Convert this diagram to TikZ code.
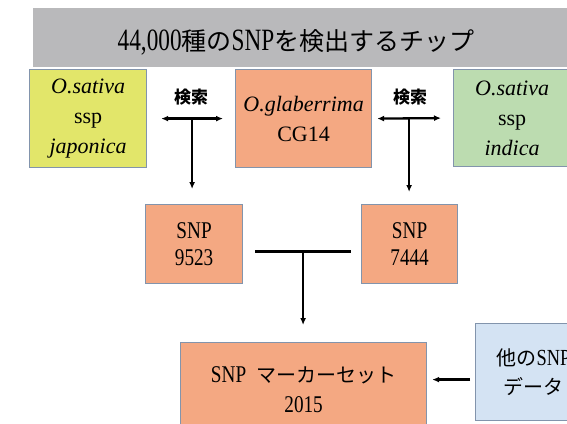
\documentclass[tikz,border=0pt]{standalone}
\usepackage{fontspec}
\setmainfont{Liberation Serif}
\newfontfamily\cond[FakeStretch=0.8]{Liberation Serif}
\newfontfamily\tfont[FakeStretch=0.75]{Liberation Serif}
\newfontfamily\cjk{Noto Sans CJK JP}
\usetikzlibrary{arrows.meta}
\definecolor{bannergray}{RGB}{185,185,187}
\definecolor{boxyellow}{RGB}{226,230,106}
\definecolor{boxorange}{RGB}{244,168,130}
\definecolor{boxgreen}{RGB}{188,220,176}
\definecolor{boxblue}{RGB}{212,227,243}
\definecolor{edgeblue}{RGB}{130,148,172}
\begin{document}
\begin{tikzpicture}[x=1pt,y=-1pt,
  box/.style={draw=edgeblue, line width=1.2pt, anchor=north west, inner sep=0pt, align=center},
  conn/.style={line width=2.3pt},
  vconn/.style={line width=1.7pt},
  tip/.style={-{Latex[length=7pt,width=6pt]}},
  dtip/.style={{Latex[length=7pt,width=6pt]}-{Latex[length=7pt,width=6pt]}},
  spfont/.style={font=\fontsize{22}{30}\selectfont},
  snpfont/.style={font=\cond\fontsize{24}{27}\selectfont},
  lbl/.style={font=\cjk\bfseries\fontsize{17}{20}\selectfont}]
\useasboundingbox (0,0) rectangle (567,423);
\clip (0,0) rectangle (567,423);
% banner
\node[box, fill=bannergray, draw=none, minimum width=560pt, minimum height=59pt] (banner) at (32,7) {};
\node (title) at (296,42) {\tfont\fontsize{31}{34}\selectfont 44,000{\cjk\fontsize{25}{34}\selectfont 種の}SNP{\cjk\fontsize{25}{34}\selectfont を検出するチップ}};
% top row
\node[box, fill=boxyellow, minimum width=117pt, minimum height=98pt, spfont] (jap) at (29,69) {\textit{O.sativa}\\ssp\\\textit{japonica}};
\node[box, fill=boxorange, minimum width=136pt, minimum height=98pt, spfont] (gla) at (235,69) {\textit{O.glaberrima}\\CG14};
\node[box, fill=boxgreen, minimum width=117pt, minimum height=97pt, spfont] (ind) at (453,69) {\textit{O.sativa}\\ssp\\\textit{indica}};
% search labels
\node[lbl] (k1) at (191,97) {検索};
\node[lbl] (k2) at (410,97) {検索};
% SNP boxes
\node[box, fill=boxorange, minimum width=97pt, minimum height=79pt, snpfont] (s1) at (145,204) {SNP\\9523};
\node[box, fill=boxorange, minimum width=96pt, minimum height=79pt, snpfont] (s2) at (361,204) {SNP\\7444};
% marker set and other data
\node[box, fill=boxorange, minimum width=246pt, minimum height=94pt, font=\cond\fontsize{24}{30}\selectfont] (set) at (180,342) {SNP\hspace{10pt}{\cjk\fontsize{20}{30}\selectfont マーカーセット}\\2015};
\node[box, fill=boxblue, minimum width=116pt, minimum height=97pt, font=\fontsize{20}{29}\selectfont] (oth) at (475,323) {{\cjk 他の}{\cond\fontsize{23}{29}\selectfont SNP}\\{\cjk データ}};
% connectors
\draw[conn, dtip] ([xshift=14pt]jap.east) -- ([xshift=-12pt]gla.west) coordinate[pos=0.5] (m1);
\draw[vconn, tip, shorten >=15pt] (m1) -- (m1 |- s1.north);
\draw[conn, dtip] ([xshift=5pt]gla.east) -- ([xshift=-12pt]ind.west) coordinate[pos=0.5] (m2);
\draw[vconn, tip, shorten >=12pt] (m2) -- (m2 |- s2.north);
\draw[conn] ([xshift=12pt,yshift=-7.5pt]s1.east) -- ([xshift=-10pt,yshift=-7.5pt]s2.west) coordinate[pos=0.5] (m3);
\draw[vconn, tip, shorten >=17pt] (m3) -- (m3 |- set.north);
\draw[conn, tip, shorten >=5pt] ([xshift=-5pt,yshift=-7.5pt]oth.west) coordinate (a0) -- (a0 -| set.east);
\end{tikzpicture}
\end{document}
